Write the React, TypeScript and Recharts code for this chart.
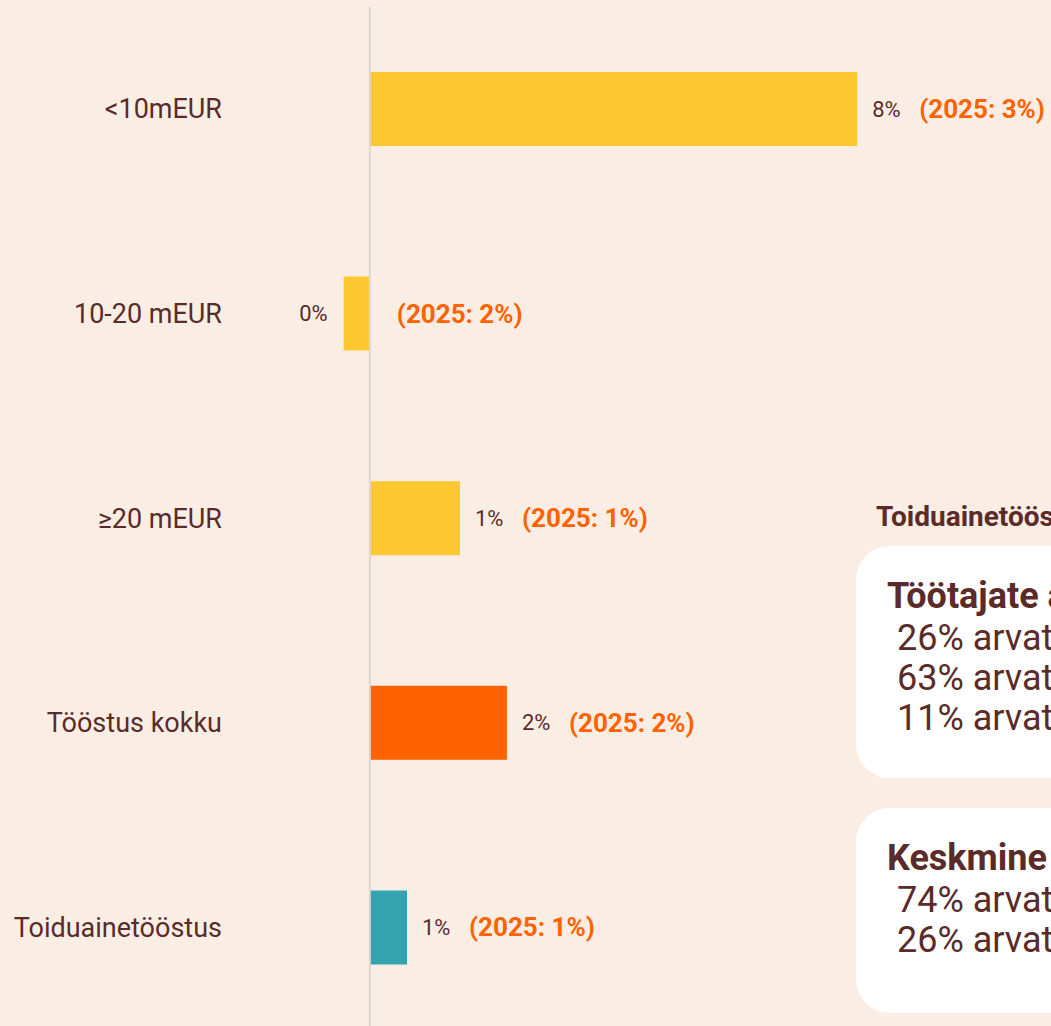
import { Bar, BarChart, Cell, LabelList, ReferenceLine, XAxis, YAxis } from "recharts";

const categories = ["<10mEUR", "10-20 mEUR", "≥20 mEUR", "Tööstus kokku", "Toiduainetööstus"];
const values = [8.0, -0.43, 1.48, 2.25, 0.61];
const valueLabels = ["8%", "0%", "1%", "2%", "1%"];
const prevYearLabels = ["(2025: 3%)", "(2025: 2%)", "(2025: 1%)", "(2025: 2%)", "(2025: 1%)"];
const barColors = ["#FDC82F", "#FDC82F", "#FDC82F", "#FF6200", "#33A3AF"];

const panelTitle = "Toiduainetööstuse ootused 2026";
const staffTitle = "Töötajate arv";
const staffLines = ["26% arvates kasvab", "63% arvates jääb samaks", "11% arvates väheneb"];
const wageTitle = "Keskmine palk";
const wageLines = ["74% arvates kasvab", "26% arvates jääb samaks"];

const data = categories.map((name, i) => ({ name, value: values[i] }));

const BROWN = "#5A2B29";
const ORANGE = "#FF6200";
const FONT = "Roboto, sans-serif";

function CategoryTick(props: any) {
  const { x, y, payload } = props;
  return (
    <text x={x - 18} y={y} textAnchor="end" dominantBaseline="central"
      fill={BROWN} fontSize={27} fontFamily={FONT}>
      {payload.value}
    </text>
  );
}

function BarLabels(props: any) {
  const { x, y, width, height, index } = props;
  const left = Math.min(x, x + width);
  const right = Math.max(x, x + width);
  const cy = y + height / 2;
  const neg = values[index] < 0;
  return (
    <g fontFamily={FONT}>
      <text x={neg ? left - 16 : right + 15} y={cy} textAnchor={neg ? "end" : "start"}
        dominantBaseline="central" fill={BROWN} fontSize={22}>
        {valueLabels[index]}
      </text>
      <text x={neg ? right + 27 : right + 62} y={cy} textAnchor="start"
        dominantBaseline="central" fill={ORANGE} fontSize={26} fontWeight={700}>
        {prevYearLabels[index]}
      </text>
    </g>
  );
}

function Panel({ top, height, title, lines }: { top: number; height: number; title: string; lines: string[] }) {
  return (
    <div style={{
      position: "absolute", left: 856, top, width: 420, height, background: "#fff",
      borderRadius: 34, fontFamily: FONT, color: BROWN, whiteSpace: "nowrap",
      paddingLeft: 31, paddingTop: 28, boxSizing: "border-box",
    }}>
      <div style={{ fontSize: 36, fontWeight: 700, lineHeight: "44px" }}>{title}</div>
      {lines.map((l) => (
        <div key={l} style={{ fontSize: 36, lineHeight: "40px", paddingLeft: 10 }}>{l}</div>
      ))}
    </div>
  );
}

export default function App() {
  return (
    <div style={{
      position: "absolute", left: 0, top: 0, width: 1051, height: 1026,
      background: "#FAEEE4", overflow: "hidden",
    }}>
      <BarChart width={1051} height={1030} data={data} layout="vertical"
        margin={{ top: 7, right: 72, bottom: 0, left: 0 }} barSize={74}>
        <XAxis type="number" hide domain={[-2, 10]} allowDataOverflow />
        <YAxis type="category" dataKey="name" width={248} axisLine={false}
          tickLine={false} tick={<CategoryTick />} interval={0} />
        <ReferenceLine x={0} stroke="#DDD7D0" strokeWidth={2} />
        <Bar dataKey="value" isAnimationActive={false}>
          {data.map((d, i) => <Cell key={d.name} fill={barColors[i]} />)}
          <LabelList dataKey="value" content={<BarLabels />} />
        </Bar>
      </BarChart>
      <div style={{
        position: "absolute", left: 876, top: 501, fontFamily: FONT, fontSize: 28,
        fontWeight: 700, color: BROWN, whiteSpace: "nowrap", lineHeight: "32px",
      }}>{panelTitle}</div>
      <Panel top={546} height={232} title={staffTitle} lines={staffLines} />
      <Panel top={808} height={205} title={wageTitle} lines={wageLines} />
    </div>
  );
}
